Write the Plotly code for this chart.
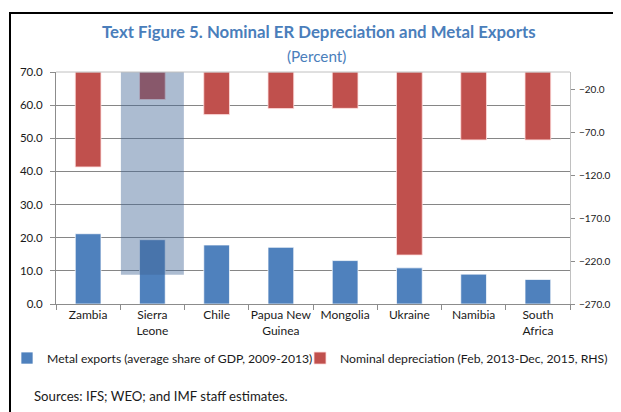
import plotly.graph_objects as go

categories = ["Zambia", "Sierra<br>Leone", "Chile", "Papua New<br>Guinea", "Mongolia",
              "Ukraine", "Namibia", "South<br>Africa"]
metal_exports = [21.2, 19.4, 17.8, 17.1, 13.1, 10.9, 9.0, 7.4]
nominal_depreciation = [-110.5, -32.0, -49.6, -42.6, -42.3, -213.0, -79.0, -79.0]
left_ticks = [0, 10, 20, 30, 40, 50, 60, 70]
right_ticks = [-270, -220, -170, -120, -70, -20]
highlight_country = "Sierra<br>Leone"
highlight_low = 8.8

BLUE = "#4F81BD"
RED = "#C0504D"
TITLE_C = "#4A7EBB"
FONT = "Lato, 'Open Sans', sans-serif"
TXT = "#1a1a1a"

fig = go.Figure()
fig.add_trace(go.Bar(
    x=categories, y=metal_exports, name="Metal exports (average share of GDP, 2009-2013)",
    marker=dict(color=BLUE, line=dict(color="rgba(255,255,255,0.7)", width=1)),
    width=0.4, yaxis="y", legend="legend"))
fig.add_trace(go.Bar(
    x=categories, y=nominal_depreciation, name="Nominal depreciation (Feb, 2013-Dec, 2015, RHS)",
    marker=dict(color=RED, line=dict(color="rgba(255,220,220,0.8)", width=1)),
    width=0.4, yaxis="y2", legend="legend2"))

hi = categories.index(highlight_country)
fig.add_shape(type="rect", xref="x", yref="y", x0=hi - 0.49, x1=hi + 0.49,
              y0=highlight_low, y1=left_ticks[-1], fillcolor="rgba(62,100,148,0.43)",
              line=dict(width=0), layer="above")

# plot-area top border
fig.add_shape(type="line", xref="paper", yref="paper", x0=0, x1=1, y0=1, y1=1,
              line=dict(color="#c0c0c0", width=1), layer="above")

# outer frame
fig.add_shape(type="rect", xref="paper", yref="paper", x0=-0.0895, x1=1.3, y0=-0.7, y1=1.254,
              line=dict(color="black", width=2), fillcolor="rgba(0,0,0,0)", layer="below")

legend_common = dict(orientation="h", xanchor="left", yanchor="middle",
                     font=dict(size=12.2, color=TXT, family=FONT), itemwidth=30,
                     bgcolor="rgba(0,0,0,0)", borderwidth=0)

# the page adds an 8px body margin, so the figure is 8px smaller than the window
fig.update_layout(
    width=613, height=404,
    margin=dict(l=48, r=51, t=64, b=108, autoexpand=False),
    paper_bgcolor="white", plot_bgcolor="white",
    barmode="overlay",
    font=dict(family=FONT, size=12, color=TXT),
    showlegend=True,
    legend=dict(x=(7 - 56) / 514, y=-0.233, **legend_common),
    legend2=dict(x=(300 - 56) / 514, y=-0.233, **legend_common),
    xaxis=dict(type="category", showline=True, linecolor="#8c8c8c", linewidth=1,
               ticks="outside", tickson="boundaries", ticklen=5, tickcolor="#8c8c8c",
               showgrid=False, tickangle=0, automargin=False,
               tickfont=dict(size=12, color=TXT)),
    yaxis=dict(range=[0, 70], tickvals=left_ticks, tickformat=".1f", showline=True,
               linecolor="#8c8c8c", ticks="outside", ticklen=5, tickcolor="#8c8c8c",
               showgrid=True, gridcolor="#868686", gridwidth=1, zeroline=False,
               automargin=False, ticklabelstandoff=5, tickfont=dict(size=11.5, color=TXT)),
    yaxis2=dict(range=[-270, 0], tickvals=right_ticks, tickformat=".1f", overlaying="y",
                side="right", showline=True, linecolor="#c0c0c0", ticks="outside",
                ticklen=4, tickcolor="#8c8c8c", showgrid=False, zeroline=False,
                automargin=False, ticklabelstandoff=2, tickfont=dict(size=10, color=TXT)),
    annotations=[
        dict(text="<b>Text Figure 5. Nominal ER Depreciation and Metal Exports</b>",
             xref="paper", yref="paper", x=0.5117, y=1.1737, xanchor="center",
             yanchor="middle", showarrow=False,
             font=dict(size=16.8, color=TITLE_C, family=FONT)),
        dict(text="(Percent)", xref="paper", yref="paper", x=0.507, y=1.0703,
             xanchor="center", yanchor="middle", showarrow=False,
             font=dict(size=15.3, color=TITLE_C, family=FONT)),
        dict(text="Sources: IFS; WEO; and IMF staff estimates.", xref="paper", yref="paper",
             x=(31.7 - 56) / 514, y=-0.3966, xanchor="left", yanchor="middle",
             showarrow=False, font=dict(size=13.2, color=TXT, family=FONT)),
    ],
)

fig.write_html("out.html")
